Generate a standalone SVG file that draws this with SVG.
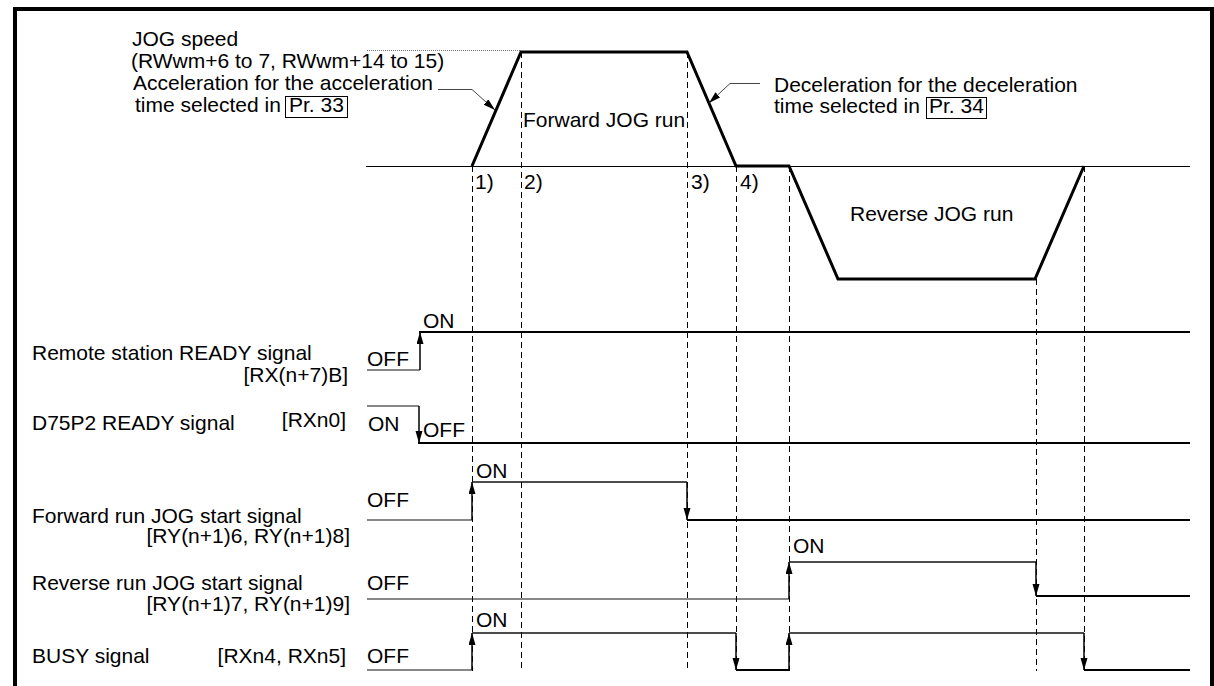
<svg xmlns="http://www.w3.org/2000/svg" width="1214" height="686" viewBox="0 0 1214 686">
<style>
text{font-family:"Liberation Sans",Arial,sans-serif;font-size:21px;fill:#000}
.end{text-anchor:end}
.frame{stroke:#000;stroke-width:4;fill:none}
.base{stroke:#000;stroke-width:1;fill:none}
.speed{stroke:#000;stroke-width:3;fill:none;stroke-linejoin:miter}
.dash{stroke:#000;stroke-width:1;stroke-dasharray:6,4;fill:none}
.dot{stroke:#777;stroke-width:1;stroke-dasharray:1,1;fill:none}
.lead{stroke:#444;stroke-width:1;fill:none}
.thin{stroke:#111;stroke-width:1.2;fill:none}
.mid{stroke:#111;stroke-width:1.6;fill:none}
.thick{stroke:#000;stroke-width:2.2;fill:none}
.edge{stroke:#000;stroke-width:1.5;fill:none;marker-end:url(#ah)}
.box{stroke:#000;stroke-width:1;fill:none}
</style>
<defs>
<marker id="ah" markerUnits="userSpaceOnUse" markerWidth="13" markerHeight="8" refX="12" refY="3.5" orient="auto">
<path d="M0,0 L12,3.5 L0,7 z" fill="#000"/>
</marker>
<marker id="lh" markerUnits="userSpaceOnUse" markerWidth="13" markerHeight="8" refX="12" refY="3.5" orient="auto">
<path d="M0,0 L12,3.5 L0,7 z" fill="#000"/>
</marker>
</defs>
<rect width="1214" height="686" fill="#fff"/>
<g id="frame">
<path class="frame" d="M15,686 V9 H1212 V686"/>
</g>
<g id="speed-chart">
<path class="base" d="M366,166.5 H1190"/>
<path class="dot" d="M367,50.5 H520"/>
<path class="speed" d="M472,166 L521,52 H687 L736,166 H789 L838,279 H1035 L1084,166"/>
<text x="523" y="127">Forward JOG run</text>
<text x="850" y="221">Reverse JOG run</text>
<text x="475" y="189">1)</text>
<text x="524" y="189">2)</text>
<text x="691" y="189">3)</text>
<text x="740" y="189">4)</text>
</g>
<g id="annotation-jog-speed">
<text x="132" y="46">JOG speed</text>
<text x="131" y="68">(RWwm+6 to 7, RWwm+14 to 15)</text>
</g>
<g id="annotation-accel">
<text x="133" y="90">Acceleration for the acceleration</text>
<text x="135" y="112">time selected in</text>
<rect class="box" x="285.5" y="96.5" width="62" height="21"/>
<text x="289" y="112">Pr. 33</text>
</g>
<g id="annotation-decel">
<text x="774" y="92">Deceleration for the deceleration</text>
<text x="774" y="113">time selected in</text>
<rect class="box" x="926.5" y="97.5" width="60" height="21"/>
<text x="929" y="113">Pr. 34</text>
</g>
<g id="guides">
<path class="dash" d="M472.5,166 V671"/>
<path class="dash" d="M521.5,52 V671"/>
<path class="dash" d="M687.5,52 V671"/>
<path class="dash" d="M736.5,166 V671"/>
<path class="dash" d="M789.5,166 V671"/>
<path class="dash" d="M1036.5,279 V671"/>
<path class="dash" d="M1084.5,166 V671"/>
</g>
<g id="connectors">
<path class="lead" d="M438,89.5 H472 L495,110" marker-end="url(#lh)"/>
<path class="lead" d="M760,83.5 H730 L709,103" marker-end="url(#lh)"/>
</g>
<g id="sig-remote-ready">
<text x="32" y="360">Remote station READY signal</text>
<text class="end" x="348" y="382">[RX(n+7)B]</text>
<text x="367" y="366">OFF</text>
<text x="423" y="328">ON</text>
<path class="thin" d="M367,370 H420"/>
<path class="edge" d="M420,370 V332"/>
<path class="thick" d="M419,332 H1190"/>
</g>
<g id="sig-d75p2-ready">
<text x="32" y="430">D75P2 READY signal</text>
<text class="end" x="346" y="427">[RXn0]</text>
<text x="368" y="431">ON</text>
<text x="423" y="437">OFF</text>
<path class="thin" d="M367,406 H419"/>
<path class="edge" d="M419,406 V443"/>
<path class="thick" d="M418,443 H1190"/>
</g>
<g id="sig-forward-start">
<text x="32" y="523">Forward run JOG start signal</text>
<text class="end" x="350" y="543">[RY(n+1)6, RY(n+1)8]</text>
<text x="367" y="507">OFF</text>
<text x="476" y="478">ON</text>
<path class="thin" d="M367,520 H472"/>
<path class="edge" d="M472,520 V482"/>
<path class="mid" d="M472,482 H687"/>
<path class="edge" d="M687,482 V520"/>
<path class="thick" d="M687,520 H1190"/>
</g>
<g id="sig-reverse-start">
<text x="32" y="590">Reverse run JOG start signal</text>
<text class="end" x="350" y="611">[RY(n+1)7, RY(n+1)9]</text>
<text x="367" y="590">OFF</text>
<text x="793" y="553">ON</text>
<path class="thin" d="M367,599 H789"/>
<path class="edge" d="M789,599 V562"/>
<path class="mid" d="M789,562 H1036"/>
<path class="edge" d="M1036,562 V596"/>
<path class="thick" d="M1036,596 H1190"/>
</g>
<g id="sig-busy">
<text x="32" y="663">BUSY signal</text>
<text class="end" x="346" y="663">[RXn4, RXn5]</text>
<text x="367" y="663">OFF</text>
<text x="476" y="627">ON</text>
<path class="thin" d="M367,670 H472"/>
<path class="edge" d="M472,670 V633"/>
<path class="mid" d="M472,633 H736"/>
<path class="edge" d="M736,633 V670"/>
<path class="thick" d="M736,670 H789"/>
<path class="edge" d="M789,670 V633"/>
<path class="mid" d="M789,633 H1084"/>
<path class="edge" d="M1084,633 V670"/>
<path class="thick" d="M1084,670 H1190"/>
</g>
</svg>
